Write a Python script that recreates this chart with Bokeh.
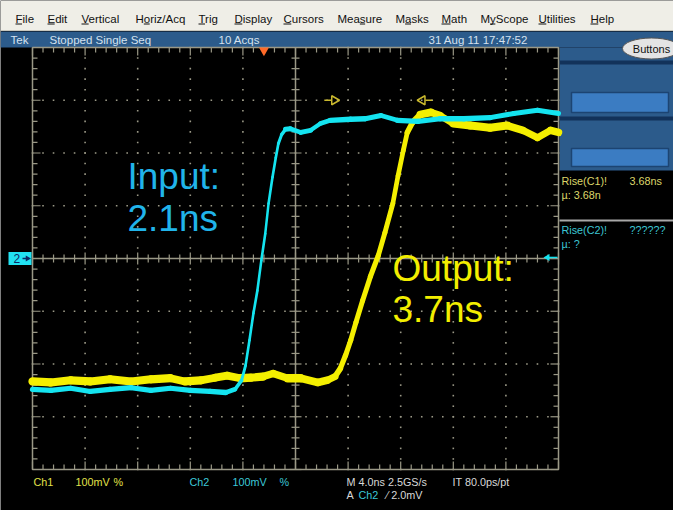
import numpy as np
from bokeh.plotting import figure
from bokeh.models import Range1d
from bokeh.core.properties import value
from bokeh.embed import file_html
from bokeh.resources import INLINE

# ---------------- data ----------------
# Ch1 = output (yellow), Ch2 = input (cyan); time in ns, amplitude in mV
ch1_time_ns = [-20.0, -18.6, -17.1, -15.6, -14.1, -12.5, -11.0, -9.5, -8.4, -7.2,
               -6.1, -5.2, -4.2, -3.4, -2.5, -1.7, -0.6, 0.4, 1.7, 2.4,
               3.0, 3.4, 3.8, 4.2, 4.6, 5.1, 5.7, 6.3, 6.8, 7.4,
               7.8, 8.2, 8.5, 8.9, 9.5, 10.3, 11.0, 12.0, 13.3, 14.8,
               16.1, 17.3, 18.4, 19.4, 20.0]
ch1_mv = [-233, -235, -231, -233, -229, -233, -229, -227, -233, -231,
          -226, -222, -227, -226, -224, -218, -227, -227, -235, -231,
          -224, -209, -184, -155, -121, -80, -34, 6, 49, 104,
          157, 205, 239, 258, 273, 277, 271, 256, 252, 248,
          252, 243, 229, 243, 239]

ch2_time_ns = [-20.0, -18.6, -17.1, -15.6, -14.1, -12.5, -11.0, -9.5, -8.0, -6.5,
               -5.3, -4.6, -4.1, -3.8, -3.5, -3.2, -2.9, -2.6, -2.3, -2.05,
               -1.75, -1.5, -1.3, -1.05, -0.75, -0.4, 0.4, 1.15, 1.9, 2.65,
               4.2, 5.3, 6.5, 7.75, 9.3, 11.0, 12.8, 14.8, 16.6, 18.4,
               20.0]
ch2_mv = [-248, -250, -246, -252, -248, -245, -250, -246, -250, -252,
          -254, -248, -231, -203, -155, -104, -61, -4, 47, 104,
          154, 191, 218, 235, 245, 246, 239, 243, 256, 262,
          264, 265, 271, 262, 260, 265, 265, 267, 275, 281,
          275]

NS_PER_DIV = 4.0
MV_PER_DIV = 100.0
H_DIVS = 10
V_DIVS = 8
MINOR = 5
trigger_time_ns = -2.4
trigger_level_mv = 2.0
ch2_offset_mv = 0.0
gate_level_mv = 300.0
gate_start_ns = 2.8
gate_end_ns = 9.8

menu_items = ["File", "Edit", "Vertical", "Horiz/Acq", "Trig", "Display", "Cursors",
              "Measure", "Masks", "Math", "MyScope", "Utilities", "Help"]
menu_hotkey = [0, 0, 0, 1, 0, 0, 0, 3, 1, 0, 1, 0, 0]
status_texts = ["Tek", "Stopped  Single Seq", "10 Acqs", "31 Aug 11 17:47:52"]
meas1 = ["Rise(C1)!", "3.68ns", "\u00b5: 3.68n"]
meas2 = ["Rise(C2)!", "??????", "\u00b5: ?"]
input_label = ["Input:", "2.1ns"]
output_label = ["Output:", "3.7ns"]
ch1_info = ["Ch1", "100mV", "%"]
ch2_info = ["Ch2", "100mV", "%"]
timebase_info = ["M 4.0ns 2.5GS/s", "IT 80.0ps/pt"]
trigger_info = ["A", "Ch2", "\u2044 2.0mV"]

# ---------------- layout (screen pixels -> data) ----------------
W, H = 673, 510
GX0, GX1, GY0, GY1 = 32, 558, 47, 469
T_HALF = H_DIVS * NS_PER_DIV / 2
V_HALF = V_DIVS * MV_PER_DIV / 2
SX = 2 * T_HALF / (GX1 - GX0)      # ns per pixel
SY = 2 * V_HALF / (GY1 - GY0)      # mV per pixel


def X(px):
    return -T_HALF + (px - GX0) * SX


def Y(py):
    return V_HALF - (py - GY0) * SY


p = figure(width=W, height=H, output_backend="svg", toolbar_location=None,
           x_range=Range1d(X(0), X(W)), y_range=Range1d(Y(H), Y(0)),
           x_axis_type=None, y_axis_type=None, min_border=0,
           background_fill_color="black", border_fill_color="black",
           outline_line_color=None)

NARROW = "Liberation Sans"
ARIAL = "Liberation Sans"
SMALL = 10.8


def txt(xs, ys, texts, color, size, font=NARROW, align="left", baseline="middle", style="normal"):
    p.text(x=[X(a) for a in xs], y=[Y(b) for b in ys], text=list(texts),
           text_color=color, text_font=value(font), text_font_size=value(f"{size}px"),
           text_align=align, text_baseline=baseline, text_font_style=style)


def box(x0, x1, y0, y1, fill, line=None, lw=1):
    p.quad(left=X(x0), right=X(x1), top=Y(y0), bottom=Y(y1), fill_color=fill,
           line_color=line, line_width=lw)


# ---------------- window chrome ----------------
box(0, W, 0, 30, "#efeee7")
p.segment(X(0), Y(30), X(W), Y(30), line_color="#c8c6bc", line_width=1)
menu_x = [15, 47, 81, 135, 198, 234, 283, 337, 395, 441, 480, 538, 590]
MENU_SIZE = 11.5
txt(menu_x, [18] * len(menu_items), menu_items, "#111111", MENU_SIZE, font=ARIAL)

# approximate Arial advance widths (em) for the hot-key underlines
ADV = {"F": .611, "E": .667, "V": .667, "H": .722, "o": .556, "T": .611, "D": .722,
       "C": .722, "M": .833, "e": .556, "a": .556, "s": .5, "y": .5, "U": .722}
ux0, ux1 = [], []
for mx, item, k in zip(menu_x, menu_items, menu_hotkey):
    off = sum(ADV.get(c, .55) for c in item[:k]) * MENU_SIZE
    ux0.append(X(mx + off))
    ux1.append(X(mx + off + ADV.get(item[k], .55) * MENU_SIZE - 0.5))
p.segment(ux0, [Y(23.5)] * len(ux0), ux1, [Y(23.5)] * len(ux1), line_color="#111111", line_width=1)

box(0, W, 31, 47, "#2c5b8b")
txt([10, 49, 218, 428], [39] * 4, status_texts, "#d4e2f0", SMALL + 0.7)

# right-side panel
box(559, W, 47, 170, "#2c5b8b")
box(559, W, 60, 64, "#12325a")
box(559, W, 116, 120, "#12325a")
box(571, 668, 92, 112, "#3b7cc2", "#1c4472", 1.5)
box(571, 668, 148, 166, "#3b7cc2", "#1c4472", 1.5)
p.ellipse(x=X(651), y=Y(48), width=58 * SX, height=21 * SY, fill_color="#e4e4e4",
          line_color="#555555", line_width=1)
txt([651], [48], ["Buttons"], "#111111", 11, font=ARIAL, align="center")

# ---------------- graticule ----------------
GRID = "#9a9886"
t_major = np.arange(H_DIVS + 1) * NS_PER_DIV - T_HALF
v_major = np.arange(V_DIVS + 1) * MV_PER_DIV - V_HALF
t_minor = np.arange(H_DIVS * MINOR + 1) * NS_PER_DIV / MINOR - T_HALF
v_minor = np.arange(V_DIVS * MINOR + 1) * MV_PER_DIV / MINOR - V_HALF

# dotted inner lines
dx, dy = [], []
for t in t_major[1:-1]:
    if abs(t) < 1e-9:
        continue
    dx += [t] * len(v_minor)
    dy += list(v_minor)
for v in v_major[1:-1]:
    if abs(v) < 1e-9:
        continue
    dx += list(t_minor)
    dy += [v] * len(t_minor)
p.scatter(dx, dy, marker="square", size=1.6, fill_color=GRID, line_color=None)

# frame
p.quad(left=-T_HALF, right=T_HALF, top=V_HALF, bottom=-V_HALF, fill_color=None,
       line_color=GRID, line_width=1.5)
# centre cross
p.segment([-T_HALF, 0], [0, -V_HALF], [T_HALF, 0], [0, V_HALF], line_color=GRID, line_width=1.5)

is_tmaj = np.isclose((t_minor + T_HALF) % NS_PER_DIV, 0) | np.isclose((t_minor + T_HALF) % NS_PER_DIV, NS_PER_DIV)
is_vmaj = np.isclose((v_minor + V_HALF) % MV_PER_DIV, 0) | np.isclose((v_minor + V_HALF) % MV_PER_DIV, MV_PER_DIV)
tl_t = np.where(is_tmaj, 8, 5) * SY
tl_v = np.where(is_vmaj, 8, 5) * SX
ct_t = np.where(is_tmaj, 6, 4) * SY
ct_v = np.where(is_vmaj, 6, 4) * SX
# ticks on the frame, pointing inward
p.segment(t_minor, V_HALF, t_minor, V_HALF - tl_t, line_color=GRID, line_width=1.2)
p.segment(t_minor, -V_HALF, t_minor, -V_HALF + tl_t, line_color=GRID, line_width=1.2)
p.segment(-T_HALF, v_minor, -T_HALF + tl_v, v_minor, line_color=GRID, line_width=1.2)
p.segment(T_HALF, v_minor, T_HALF - tl_v, v_minor, line_color=GRID, line_width=1.2)
# ticks on the centre cross
p.segment(t_minor, -ct_t, t_minor, ct_t, line_color=GRID, line_width=1.2)
p.segment(-ct_v, v_minor, ct_v, v_minor, line_color=GRID, line_width=1.2)

# ---------------- waveforms ----------------
YELLOW = "#f4ef00"
CYAN = "#14e4f0"


def trace(t, v, color, wflat, wsteep):
    t = np.asarray(t, float)
    v = np.asarray(v, float)
    dxp = np.abs(np.diff(t)) / SX
    dyp = np.abs(np.diff(v)) / SY
    steep = dyp / (dxp + dyp + 1e-9)
    w = wflat - (wflat - wsteep) * steep
    p.segment(t[:-1], v[:-1], t[1:], v[1:], line_color=color, line_width=w, line_cap="round")


trace(ch1_time_ns, ch1_mv, YELLOW, 8.5, 4.0)
trace(ch2_time_ns, ch2_mv, CYAN, 5.5, 2.2)

# ---------------- markers ----------------
p.scatter([trigger_time_ns], [V_HALF - 3 * SY], marker="inverted_triangle", size=10,
          fill_color="#ff6a28", line_color=None)
# rise measurement gates
GATE = "#c9b82e"
p.segment([gate_start_ns - 8 * SX, gate_end_ns + 1 * SX], [gate_level_mv] * 2,
          [gate_start_ns - 1 * SX, gate_end_ns + 8 * SX], [gate_level_mv] * 2,
          line_color=GATE, line_width=1.5)
p.scatter([gate_start_ns + 2 * SX], [gate_level_mv], marker="triangle", angle=-np.pi / 2,
          size=9, fill_color=None, line_color=GATE, line_width=1.5)
p.scatter([gate_end_ns - 2 * SX], [gate_level_mv], marker="triangle", angle=np.pi / 2,
          size=9, fill_color=None, line_color=GATE, line_width=1.5)
# channel 2 ground marker on the left
p.quad(left=X(8), right=X(31), top=ch2_offset_mv + 6.5 * SY, bottom=ch2_offset_mv - 6.5 * SY,
       fill_color="#22e2f2", line_color=None)
p.text(x=[X(13)], y=[ch2_offset_mv], text=["2"], text_color="#0b2a66",
       text_font=value(NARROW), text_font_size=value("12px"), text_baseline="middle")
p.scatter([X(27)], [ch2_offset_mv], marker="triangle", angle=-np.pi / 2, size=6,
          fill_color="#0b2a66", line_color=None)
p.segment(X(22), ch2_offset_mv, X(26), ch2_offset_mv, line_color="#0b2a66", line_width=1.5)
# trigger level marker on the right
p.segment(X(548), trigger_level_mv, X(557), trigger_level_mv, line_color=CYAN, line_width=1.5)
p.scatter([X(547)], [trigger_level_mv], marker="triangle", angle=np.pi / 2, size=7,
          fill_color=CYAN, line_color=None)

# ---------------- annotations ----------------
txt([127, 127], [176, 218], input_label, "#20b4ea", 37, font=ARIAL, baseline="alphabetic")
txt([392, 392], [268, 309], output_label, "#f2ee00", 37, font=ARIAL, baseline="alphabetic")

# measurement readouts
M1 = "#dcd66a"
M2 = "#3cc6d4"
txt([561, 629, 561], [180, 180, 194], meas1, M1, SMALL)
p.segment(X(559), Y(220), X(W), Y(220), line_color="#a8a8a8", line_width=2)
txt([561, 629, 561], [229, 229, 243], meas2, M2, SMALL)

# bottom readouts
txt([33, 75, 113], [481] * 3, ch1_info, "#e2e24a", SMALL)
txt([189, 232, 279], [481] * 3, ch2_info, "#3cc8d8", SMALL)
txt([346, 452], [481, 481], timebase_info, "#d8d8d8", SMALL)
txt([346, 386], [494, 494], [trigger_info[0], trigger_info[2]], "#d8d8d8", SMALL)
txt([358], [494], [trigger_info[1]], "#3cc8d8", SMALL)

open("out.html", "w").write(file_html(p, INLINE))
